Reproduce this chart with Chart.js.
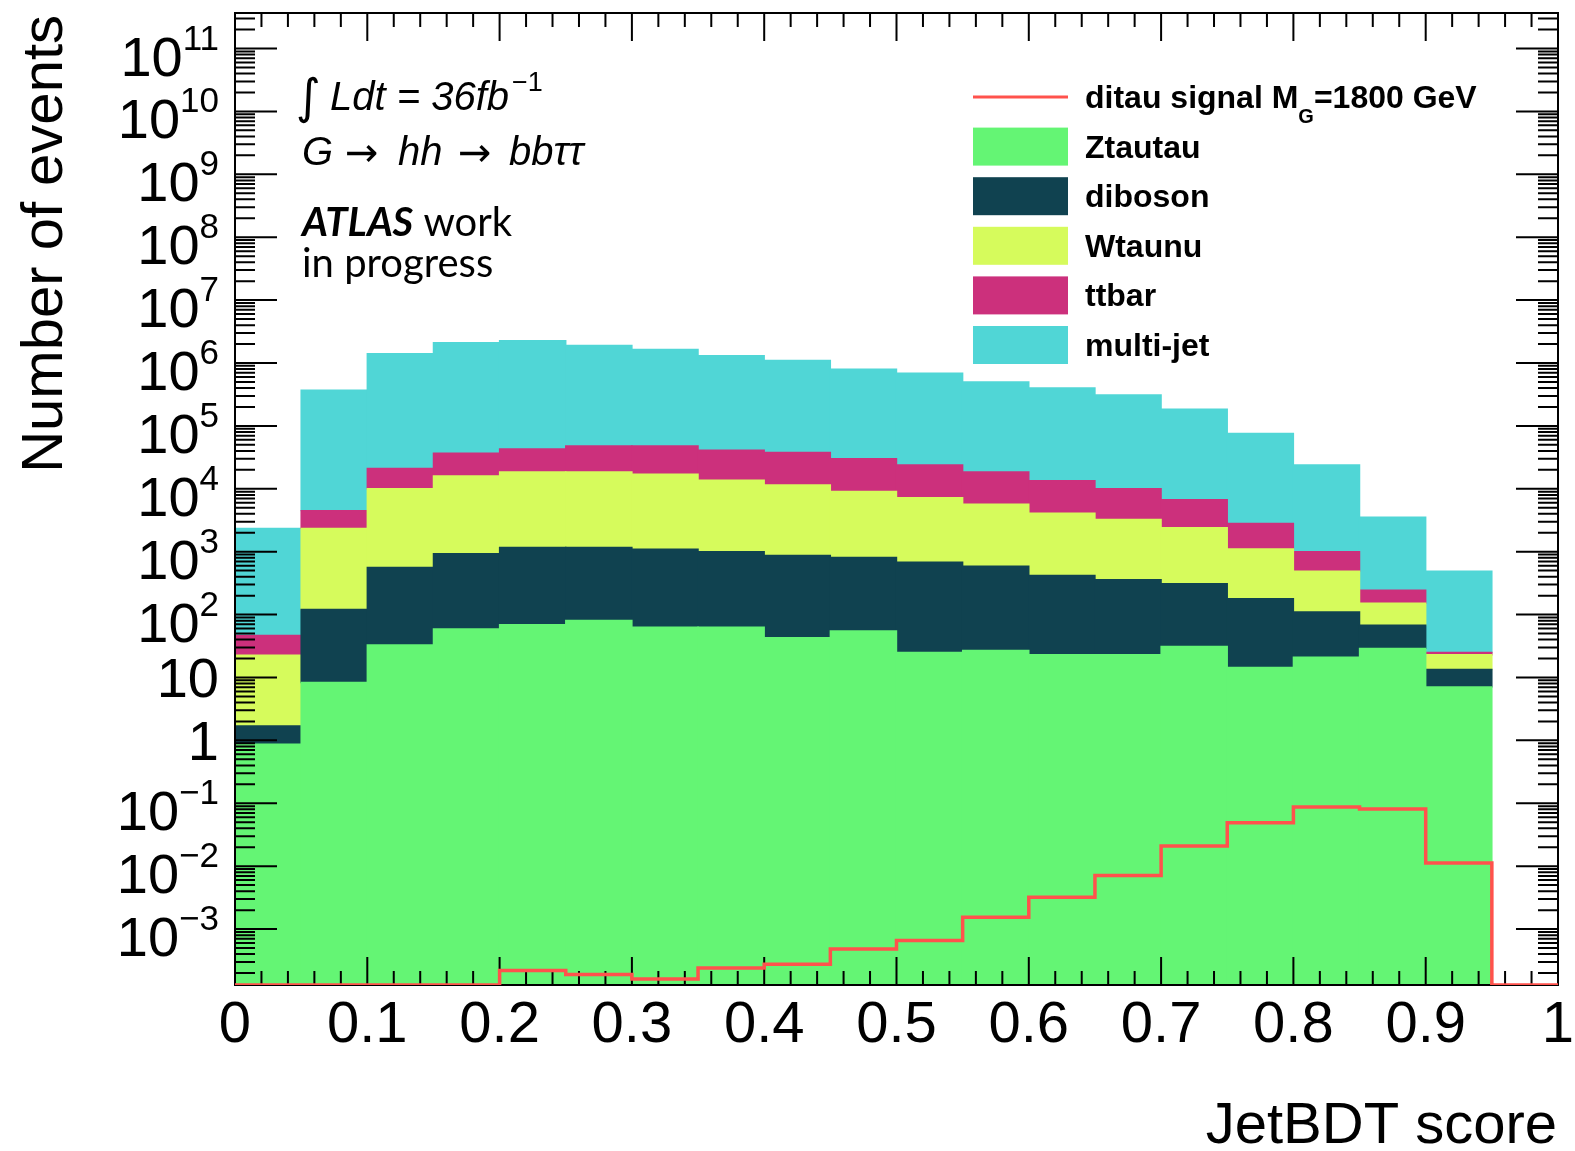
<!DOCTYPE html>
<html>
<head>
    <title>JetBDT score</title>
    <script src="https://cdn.jsdelivr.net/npm/chart.js"></script>
    <style>
        body {
            margin: 0;
            padding: 0;
            background-color: #ffffff;
        }
        canvas {
            display: block;
        }
    </style>
</head>
<body>
    <canvas id="bdtChart" width="1575" height="1151"></canvas>
    <script>
        // histogram bins (JetBDT score)
        var binEdges = [0, 0.05, 0.1, 0.15, 0.2, 0.25, 0.3, 0.35, 0.4, 0.45, 0.5,
                        0.55, 0.6, 0.65, 0.7, 0.75, 0.8, 0.85, 0.9, 0.95, 1.0];

        // background processes, events per bin (stacked bottom -> top)
        var ztautau  = [0.87, 8.3, 33, 59, 69, 81, 63, 63, 43, 55, 25, 27, 23, 23, 31, 14.4, 21, 29, 7.1, 0];
        var diboson  = [0.83, 112, 527, 871, 1100, 1090, 1037, 937, 827, 755, 655, 563, 397, 337, 279, 164, 89, 39, 6.3, 0];
        var wtaunu   = [21, 2230, 9440, 15000, 17300, 17300, 15900, 12700, 10600, 8290, 6520, 5110, 3680, 2890, 2090, 922, 380, 83, 9.6, 0];
        var ttbar    = [24, 2150, 11000, 21000, 24500, 29500, 31000, 27300, 26500, 20900, 16800, 12900, 9400, 6750, 4300, 1700, 510, 94, 2, 0];
        var multijet = [2300, 365000, 1380000, 2060000, 2210000, 1850000, 1600000, 1260000, 1060000, 770000,
                        666000, 481000, 387000, 300000, 178000, 73000, 23000, 3300, 465, 0];

        // signal
        var signal = [0, 0, 0, 0, 2.2e-4, 1.9e-4, 1.6e-4, 2.4e-4, 2.75e-4, 4.8e-4, 6.6e-4, 1.54e-3,
                      3.2e-3, 7.1e-3, 0.021, 0.049, 0.087, 0.081, 0.0112, 0];

        // axes
        var yMin = 1.29e-4;
        var yMax = 3.67e11;
        var yTickPowers = [11, 10, 9, 8, 7, 6, 5, 4, 3, 2, 1, 0, -1, -2, -3];
        var xTickValues = [0, 0.1, 0.2, 0.3, 0.4, 0.5, 0.6, 0.7, 0.8, 0.9, 1];
        var xTickLabels = ['0', '0.1', '0.2', '0.3', '0.4', '0.5', '0.6', '0.7', '0.8', '0.9', '1'];
        var xMinorStep = 0.02;

        var colZtautau = 'rgb(100,245,116)';
        var colDiboson = 'rgb(16,66,80)';
        var colWtaunu = 'rgb(214,251,92)';
        var colTtbar = 'rgb(204,48,124)';
        var colMultijet = 'rgb(80,214,214)';
        var colSignal = 'rgb(255,82,76)';

        var binLabels = [];
        for (var i = 0; i < binEdges.length - 1; i++) {
            binLabels.push(((binEdges[i] + binEdges[i + 1]) / 2).toFixed(3));
        }
        // step line: one point on each left bin edge, plus the closing edge.
        // empty bins sit on the frame floor, the way ROOT draws them on a log axis
        var signalPoints = [];
        for (var i = 0; i < signal.length; i++) {
            signalPoints.push({x: binEdges[i], y: signal[i] > 0 ? signal[i] : yMin});
        }
        signalPoints.push({x: binEdges[binEdges.length - 1], y: signalPoints[signalPoints.length - 1].y});

        var FONT = '"Liberation Sans", Arial, sans-serif';

        function drawFrame(chart) {
            var ctx = chart.ctx, a = chart.chartArea;
            var ys = chart.scales.y, xs = chart.scales.x2;
            ctx.save();
            ctx.strokeStyle = '#000';
            ctx.lineWidth = 2;
            ctx.beginPath();
            for (var p = -4; p <= 11; p++) {
                for (var k = 1; k <= 9; k++) {
                    var v = k * Math.pow(10, p);
                    if (v < ys.min || v > ys.max) continue;
                    var py = ys.getPixelForValue(v);
                    var len = (k === 1) ? 42 : 20;
                    ctx.moveTo(a.left, py); ctx.lineTo(a.left + len, py);
                    ctx.moveTo(a.right, py); ctx.lineTo(a.right - len, py);
                }
            }
            var n = Math.round(1 / xMinorStep);
            for (var i = 0; i <= n; i++) {
                var px = xs.getPixelForValue(i * xMinorStep);
                var l = (i % 5 === 0) ? 28 : 14;
                ctx.moveTo(px, a.bottom); ctx.lineTo(px, a.bottom - l);
                ctx.moveTo(px, a.top); ctx.lineTo(px, a.top + l);
            }
            ctx.stroke();
            ctx.strokeRect(a.left, a.top, a.right - a.left, a.bottom - a.top);
            ctx.restore();
        }

        function drawAxisText(chart) {
            var ctx = chart.ctx;
            var ys = chart.scales.y, xs = chart.scales.x2;
            ctx.save();
            ctx.fillStyle = '#000';
            ctx.textBaseline = 'alphabetic';
            // y labels
            ctx.textAlign = 'right';
            var right = 219;
            yTickPowers.forEach(function (p) {
                var py = ys.getPixelForValue(Math.pow(10, p));
                if (p === 0 || p === 1) {
                    ctx.font = '56px ' + FONT;
                    ctx.fillText(p === 0 ? '1' : '10', right, py + 20);
                } else {
                    var ex = p < 0 ? '\u2212' + (-p) : String(p);
                    ctx.font = '35px ' + FONT;
                    var ew = ctx.measureText(ex).width;
                    ctx.fillText(ex, right, py + 1);
                    ctx.font = '56px ' + FONT;
                    ctx.fillText('10', right - ew, py + 27);
                }
            });
            // x labels
            ctx.textAlign = 'center';
            ctx.font = '58px ' + FONT;
            for (var i = 0; i < xTickValues.length; i++) {
                ctx.fillText(xTickLabels[i], xs.getPixelForValue(xTickValues[i]), 1042);
            }
            // titles
            ctx.textAlign = 'right';
            ctx.fillText('JetBDT score', 1557, 1143);
            ctx.font = '58px ' + FONT;
            ctx.translate(62, 15);
            ctx.rotate(-Math.PI / 2);
            ctx.fillText('Number of events', 0, 0);
            ctx.restore();
        }

        function drawLegend(chart) {
            var ctx = chart.ctx;
            var x0 = 973, sw = 95, sh = 38, tx = 1085, top = 97, step = 49.6;
            ctx.save();
            ctx.textAlign = 'left';
            ctx.textBaseline = 'alphabetic';
            chart.data.datasets.forEach(function (ds, i) {
                var cy = top + i * step;
                if (ds.type === 'line') {
                    ctx.strokeStyle = ds.borderColor;
                    ctx.lineWidth = 3;
                    ctx.beginPath();
                    ctx.moveTo(x0, cy); ctx.lineTo(x0 + sw, cy);
                    ctx.stroke();
                } else {
                    ctx.fillStyle = ds.backgroundColor;
                    ctx.fillRect(x0, cy - sh / 2, sw, sh);
                }
                ctx.fillStyle = '#000';
                var parts = ds.label.split('_');
                var x = tx, base = cy + 11;
                ctx.font = 'bold 32px ' + FONT;
                ctx.fillText(parts[0], x, base);
                x += ctx.measureText(parts[0]).width;
                if (parts.length > 1) {
                    var sub = parts[1].charAt(0), rest = parts[1].slice(1);
                    ctx.font = 'bold 20px ' + FONT;
                    ctx.fillText(sub, x, base + 15);
                    x += ctx.measureText(sub).width;
                    ctx.font = 'bold 32px ' + FONT;
                    ctx.fillText(rest, x, base);
                }
            });
            ctx.restore();
        }

        function drawNotes(chart) {
            var ctx = chart.ctx;
            ctx.save();
            ctx.fillStyle = '#000';
            ctx.textAlign = 'left';
            ctx.textBaseline = 'alphabetic';
            ctx.font = '48px "DejaVu Sans"';
            ctx.fillText('\u222B', 296, 113);
            ctx.font = 'italic 40px ' + FONT;
            ctx.fillText('Ldt = 36fb', 330, 110);
            var w = ctx.measureText('Ldt = 36fb').width;
            ctx.font = '27px ' + FONT;
            ctx.fillText('\u22121', 330 + w + 3, 91);
            // G -> hh -> bb tau tau
            ctx.font = 'italic 40px ' + FONT;
            ctx.fillText('G', 302, 165);
            ctx.fillText('hh', 398, 165);
            ctx.fillText('bb\u03C4\u03C4', 509, 165);
            ctx.font = '40px "DejaVu Sans"';
            ctx.fillText('\u2192', 345, 166);
            ctx.fillText('\u2192', 458, 166);
            ctx.font = 'italic bold 40px Lato';
            ctx.fillText('ATLAS', 302, 236);
            var aw = ctx.measureText('ATLAS').width;
            ctx.font = '40px Lato';
            ctx.fillText(' work', 302 + aw, 236);
            ctx.fillText('in progress', 302, 277);
            ctx.restore();
        }

        var rootStyle = {
            id: 'rootStyle',
            afterDatasetDraw: function (chart, args) {
                // frame and ticks go over the stacked fills, under the signal line
                if (args.index === 1) drawFrame(chart);
            },
            afterDraw: function (chart) {
                drawAxisText(chart);
                drawLegend(chart);
                drawNotes(chart);
            }
        };

        var ctx = document.getElementById('bdtChart').getContext('2d');
        var bdtChart = new Chart(ctx, {
            type: 'bar',
            data: {
                labels: binLabels,
                datasets: [
                    {type: 'line', label: 'ditau signal M_G=1800 GeV', data: signalPoints, xAxisID: 'x2', yAxisID: 'y',
                     stepped: true, borderColor: colSignal, borderWidth: 3.5, pointRadius: 0, fill: false},
                    {label: 'Ztautau', data: ztautau, backgroundColor: colZtautau, stack: 'bkg'},
                    {label: 'diboson', data: diboson, backgroundColor: colDiboson, stack: 'bkg'},
                    {label: 'Wtaunu', data: wtaunu, backgroundColor: colWtaunu, stack: 'bkg'},
                    {label: 'ttbar', data: ttbar, backgroundColor: colTtbar, stack: 'bkg'},
                    {label: 'multi-jet', data: multijet, backgroundColor: colMultijet, stack: 'bkg'}
                ]
            },
            options: {
                responsive: false,
                animation: false,
                layout: {padding: {left: 235, top: 13, right: 17, bottom: 166}},
                datasets: {bar: {barPercentage: 1, categoryPercentage: 1, borderWidth: 0, grouped: false, inflateAmount: 0.7}},
                plugins: {legend: {display: false}, tooltip: {enabled: false}},
                scales: {
                    x: {type: 'category', display: false, stacked: true, offset: true},
                    x2: {type: 'linear', display: false, min: 0, max: 1, offset: false},
                    y: {type: 'logarithmic', display: false, stacked: true, min: yMin, max: yMax}
                }
            },
            plugins: [rootStyle]
        });
    </script>
</body>
</html>
